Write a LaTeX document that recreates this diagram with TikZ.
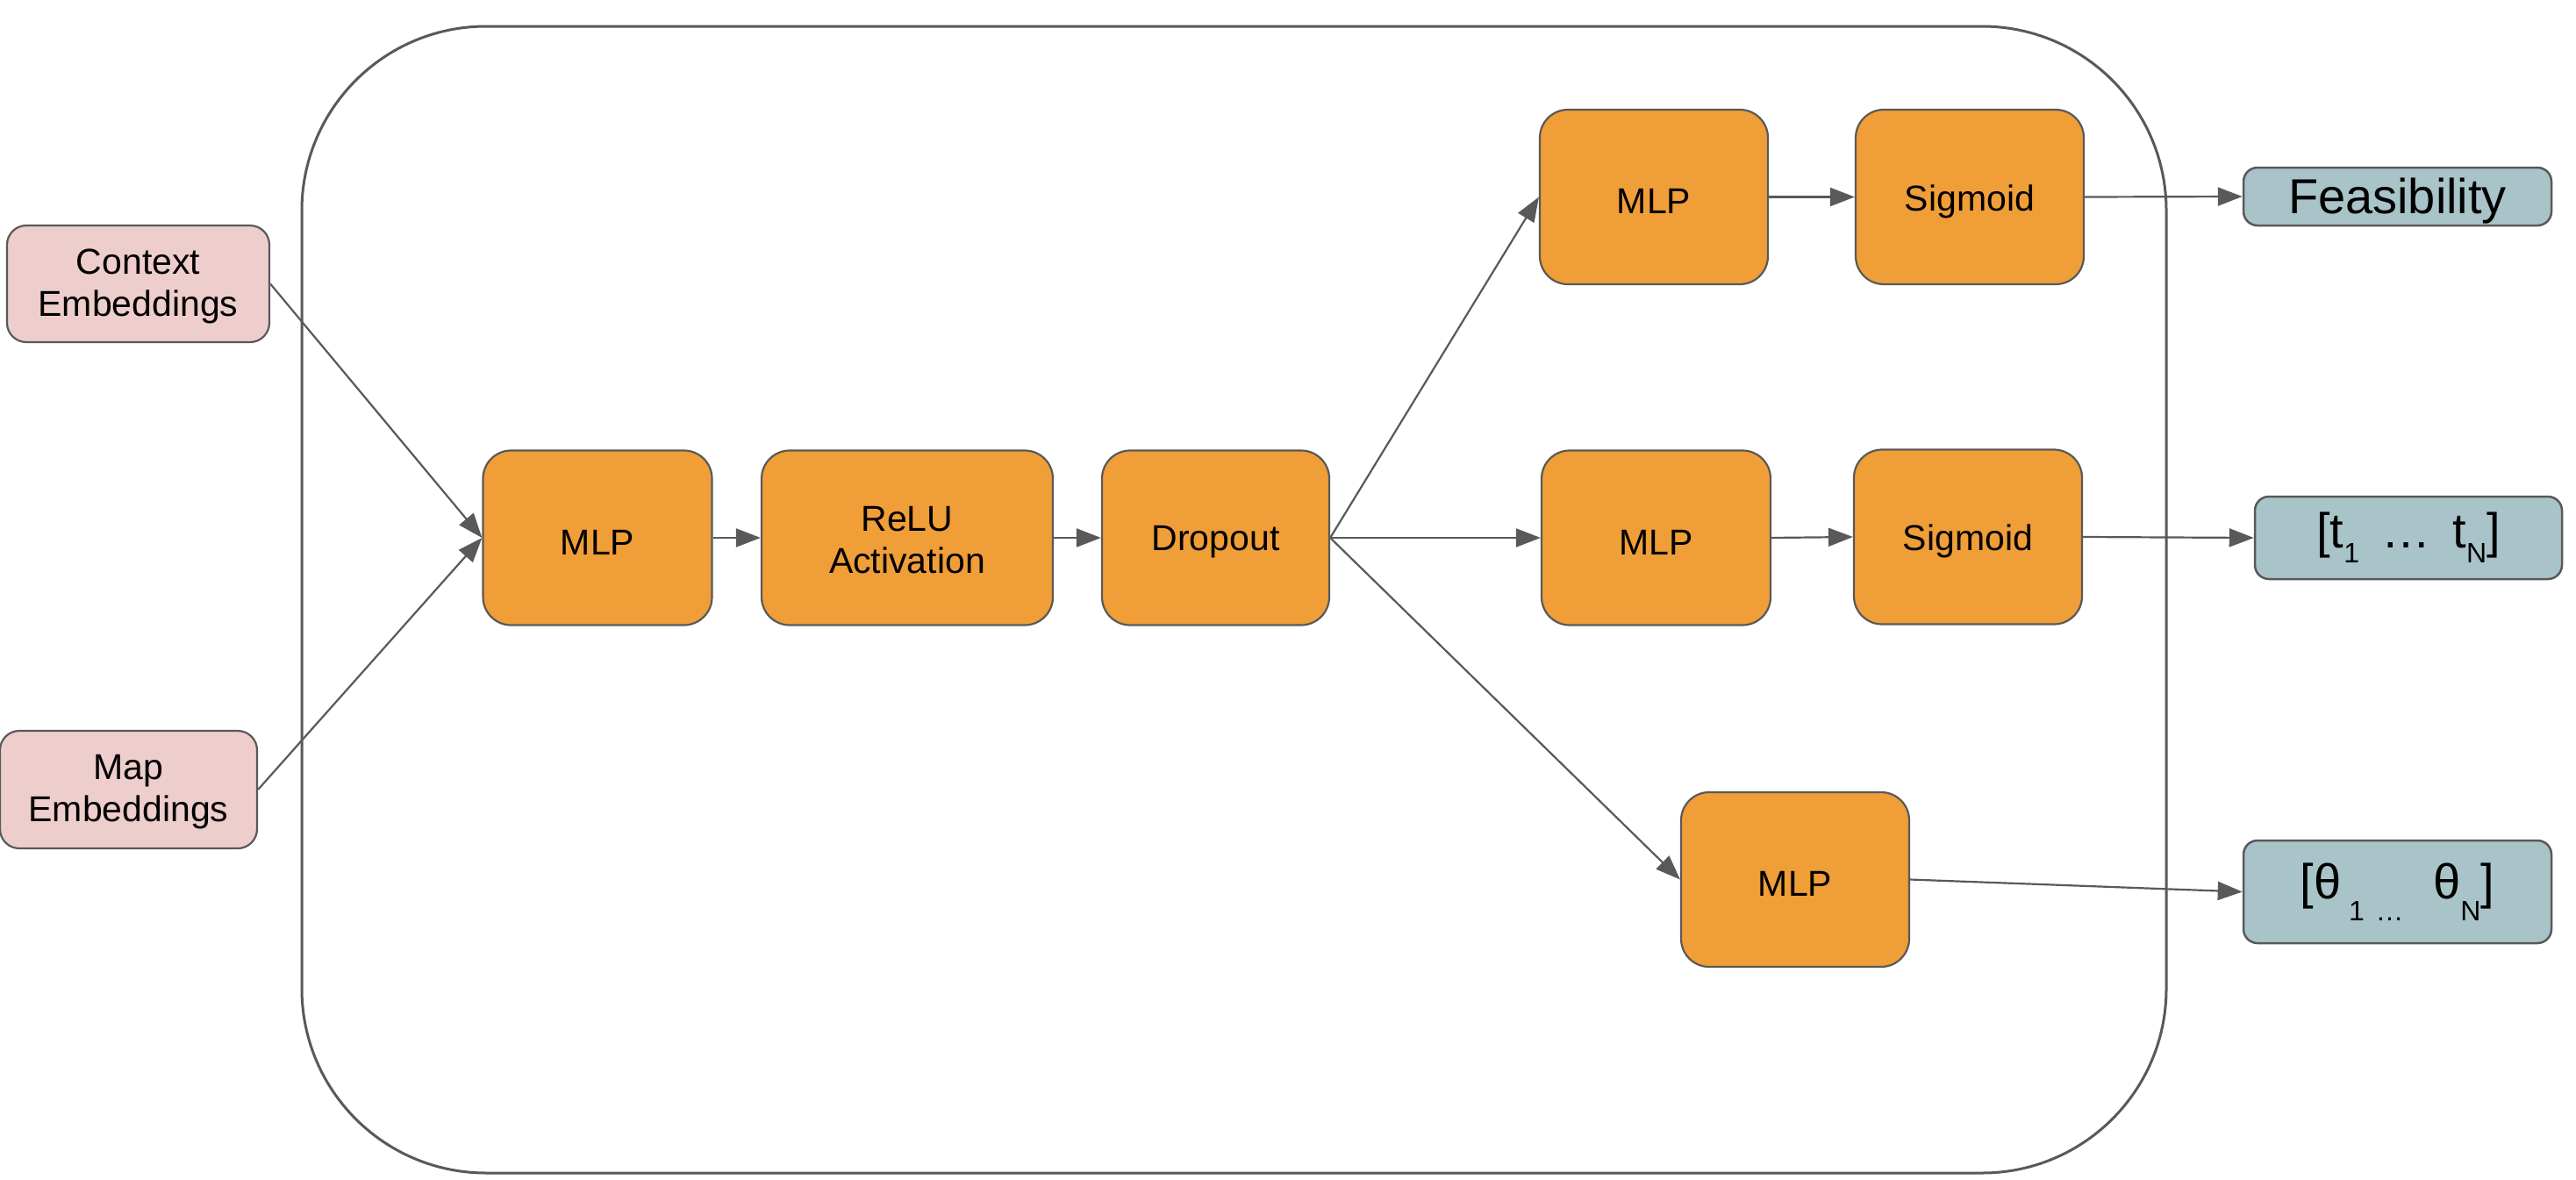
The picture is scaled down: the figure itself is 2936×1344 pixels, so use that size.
\documentclass[tikz,border=0pt]{standalone}
\usepackage{fontspec}
\setmainfont{Liberation Sans}
\usetikzlibrary{arrows.meta}
\definecolor{strk}{HTML}{595959}
\definecolor{orng}{HTML}{F09E38}
\definecolor{pnk}{HTML}{EECDCD}
\definecolor{tl}{HTML}{A9C4C9}
\newcommand\lowertxt[1]{\raisebox{-5pt}[\height][\depth]{#1}}
\tikzset{
  blk/.style={draw=strk, line width=2.2pt, fill=orng, rounded corners=32pt,
    minimum width=260pt, minimum height=199pt, inner sep=0pt, align=center,
    font=\fontsize{41}{48}\selectfont},
  inbox/.style={draw=strk, line width=2.2pt, fill=pnk, rounded corners=22pt,
    minimum height=133pt, inner sep=0pt, align=center,
    font=\fontsize{41}{48}\selectfont},
  outbox/.style={draw=strk, line width=2.5pt, fill=tl, rounded corners=16pt,
    minimum width=351pt, inner sep=0pt, align=center,
    font=\fontsize{56}{60}\selectfont},
  conn/.style={draw=strk, line width=2.2pt, -{Triangle[length=28pt,width=21pt]}},
}
\begin{document}
\begin{tikzpicture}[x=1pt,y=-1pt]
\useasboundingbox (0,0) rectangle (2936,1344);
\draw[strk, line width=3pt, rounded corners=210pt] (344,30) rectangle (2469,1337);

\node[inbox, minimum width=299pt] (ctx) at (157.5,323.5) {\strut Context\\Embeddings};
\node[inbox, minimum width=293pt, minimum height=134pt] (map) at (146.5,900) {\strut Map\\Embeddings};

\node[blk, minimum width=261pt] (mlp1) at (681,613) {\lowertxt{MLP}};
\node[blk, minimum width=332pt] (relu) at (1034,613) {\strut ReLU\\Activation};
\node[blk, minimum width=259pt] (drop) at (1385.5,613) {\lowertxt{Dropout}};

\node[blk] (mlpa) at (1885,224.5) {\lowertxt{MLP}};
\node[blk] (siga) at (2245,224.5) {\lowertxt{Sigmoid}};
\node[blk, minimum width=261pt] (mlpb) at (1887.5,613) {\lowertxt{MLP}};
\node[blk] (sigb) at (2243,612) {\lowertxt{Sigmoid}};
\node[blk] (mlpc) at (2046,1002.5) {\lowertxt{MLP}};

\node[outbox, minimum height=66pt] (feas) at (2732.5,224) {\lowertxt{Feasibility}};
\node[outbox, minimum width=350pt, minimum height=94pt] (tout) at (2745,613)
  {[t\raisebox{-0.3em}{\fontsize{32}{32}\selectfont 1}\hspace{0.45em}…\hspace{0.45em}t\raisebox{-0.3em}{\fontsize{32}{32}\selectfont N}]};
\node[outbox, minimum height=117pt] (thout) at (2732.5,1016.5)
  {[θ\hspace{0.15em}\raisebox{-0.45em}{\fontsize{32}{32}\selectfont 1\hspace{0.4em}…}\hspace{0.6em}θ\raisebox{-0.45em}{\fontsize{32}{32}\selectfont N}]};

\draw[conn] (ctx.east) -- (mlp1.west);
\draw[conn] (map.east) -- (mlp1.west);
\draw[conn] (mlp1.east) -- (relu.west);
\draw[conn] (relu.east) -- (drop.west);
\draw[conn] (drop.east) -- (mlpa.west);
\draw[conn] (drop.east) -- (mlpb.west);
\draw[conn] (drop.east) -- (mlpc.west);
\draw[conn] (mlpa.east) -- (siga.west);
\draw[conn] (mlpb.east) -- (sigb.west);
\draw[conn] (siga.east) -- (feas.west);
\draw[conn] (sigb.east) -- (tout.west);
\draw[conn] (mlpc.east) -- (thout.west);
\end{tikzpicture}
\end{document}
